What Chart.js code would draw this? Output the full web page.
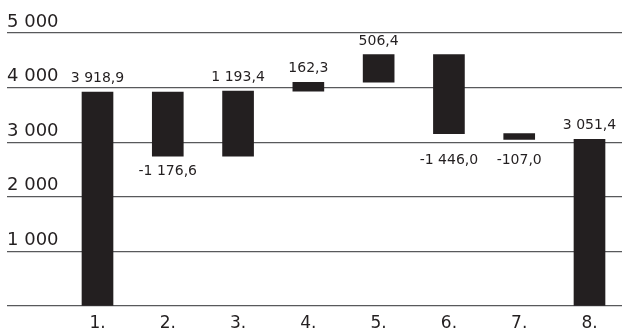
<!DOCTYPE html>
<html>
<head>
<meta charset="utf-8">
<script src="https://cdn.jsdelivr.net/npm/chart.js@4/dist/chart.umd.min.js"></script>
<style>
  html, body { margin: 0; padding: 0; background: #fff; }
  #wrap { width: 622px; height: 331px; position: relative; }
</style>
</head>
<body>
<div id="wrap"><canvas id="c"></canvas></div>
<script>
// ---- data ----
const categories = ['1.', '2.', '3.', '4.', '5.', '6.', '7.', '8.'];
const values = [3918.9, -1176.6, 1193.4, 162.3, 506.4, -1446.0, -107.0, 3051.4];
const kinds = ['total', 'delta', 'delta', 'delta', 'delta', 'delta', 'delta', 'total'];
const yTicks = [0, 1000, 2000, 3000, 4000, 5000];

function fmt(v, dec) {
  const neg = v < 0;
  const s = Math.abs(v).toFixed(dec);
  let [ip, fp] = s.split('.');
  ip = ip.replace(/\B(?=(\d{3})+(?!\d))/g, ' ');
  return (neg ? '-' : '') + ip + (fp !== undefined ? ',' + fp : '');
}

// build floating ranges for waterfall
let running = 0;
const ranges = values.map((v, i) => {
  if (kinds[i] === 'total') { running = v; return { x: i + 1, y: [0, v] }; }
  const start = running; running += v;
  return { x: i + 1, y: [start, running] };
});

const FONT = "'DejaVu Sans', sans-serif";
const INK = '#231f20';

const valueLabels = {
  id: 'valueLabels',
  afterDatasetsDraw(chart, args, opts) {
    const ctx = chart.ctx;
    const meta = chart.getDatasetMeta(0);
    ctx.save();
    ctx.font = '14px ' + FONT;
    ctx.fillStyle = INK;
    ctx.textAlign = 'center';
    ctx.textBaseline = 'alphabetic';
    meta.data.forEach((el, i) => {
      const v = values[i];
      const top = Math.min(el.y, el.base);
      const bottom = Math.max(el.y, el.base);
      const txt = fmt(v, 1);
      if (v >= 0) {
        ctx.fillText(txt, el.x, top - opts.gapAbove);
      } else {
        ctx.fillText(txt, el.x, bottom + opts.gapBelow + (opts.belowShift[i] || 0));
      }
    });
    ctx.restore();
  }
};

new Chart(document.getElementById('c'), {
  type: 'bar',
  data: {
    datasets: [{
      data: ranges,
      backgroundColor: INK,
      borderWidth: 0,
      barThickness: 31
    }]
  },
  options: {
    responsive: true,
    maintainAspectRatio: false,
    animation: false,
    events: [],
    layout: { padding: { left: 7, right: 0, top: 33, bottom: 0 } },
    plugins: {
      legend: { display: false },
      tooltip: { enabled: false },
      valueLabels: { gapAbove: 10, gapBelow: 19, belowShift: [0, 0, 0, 0, 0, 11, 6, 0] }
    },
    scales: {
      x: {
        type: 'linear',
        offset: false,
        min: -0.2876,
        max: 8.4624,
        grid: { display: false, drawTicks: false },
        border: { display: false },
        afterFit: (s) => { s.height = 25; s.paddingLeft = 0; s.paddingRight = 0; },
        ticks: {
          stepSize: 1,
          includeBounds: false,
          autoSkip: false,
          maxRotation: 0,
          padding: 9,
          color: INK,
          font: { family: FONT, size: 17, lineHeight: 1 },
          callback: (v) => (Number.isInteger(v) && v >= 1 && v <= categories.length) ? categories[v - 1] : ''
        }
      },
      y: {
        min: 0,
        max: 5000,
        afterBuildTicks: (axis) => { axis.ticks = yTicks.map(v => ({ value: v })); },
        afterFit: (s) => { s.paddingTop = 0; s.paddingBottom = 0; },
        grid: { color: '#58595b', lineWidth: 1.3, drawTicks: false },
        border: { display: false },
        ticks: {
          mirror: true,
          padding: 0,
          crossAlign: 'near',
          labelOffset: -11,
          color: INK,
          font: { family: FONT, size: 18 },
          callback: (v) => v === 0 ? '' : fmt(v, 0)
        }
      }
    }
  },
  plugins: [valueLabels]
});
</script>
</body>
</html>
